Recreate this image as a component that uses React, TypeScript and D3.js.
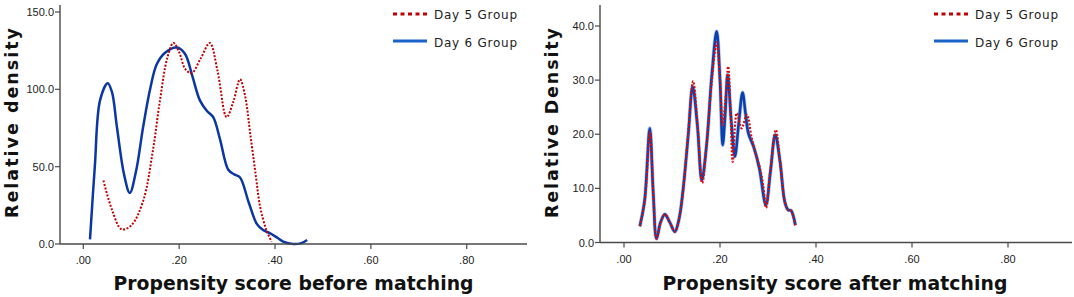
import React from "react";
import * as d3 from "d3";

// ---------- DATA ----------
const xTicks = [0, 0.2, 0.4, 0.6, 0.8];
const xTickLabels = [".00", ".20", ".40", ".60", ".80"];
const yTicksBefore = [0, 50, 100, 150];
const yTicksAfter = [0, 10, 20, 30, 40];
const seriesNames = ["Day 5 Group", "Day 6 Group"];

// Before matching: [propensity score, relative density]
const beforeDay5: [number, number][] = [
  [0.042, 41], [0.06, 22], [0.08, 9.5], [0.1, 12], [0.125, 28], [0.145, 60],
  [0.16, 93], [0.175, 120], [0.188, 130], [0.2, 124], [0.213, 113], [0.226, 110.5],
  [0.245, 120], [0.264, 130], [0.28, 112], [0.299, 82], [0.313, 92], [0.327, 106.5],
  [0.338, 95], [0.348, 72], [0.36, 44], [0.369, 24], [0.382, 9], [0.393, 1.5],
];
const beforeDay6: [number, number][] = [
  [0.014, 3], [0.024, 50], [0.035, 93], [0.051, 104], [0.06, 98], [0.07, 76],
  [0.085, 45], [0.097, 33], [0.11, 47], [0.125, 76], [0.14, 101], [0.153, 116],
  [0.17, 123.5], [0.195, 127], [0.212, 123], [0.228, 108], [0.243, 93],
  [0.258, 86], [0.271, 82], [0.285, 68], [0.3025, 48], [0.315, 45], [0.327, 43],
  [0.345, 27], [0.362, 13], [0.375, 9], [0.39, 6.9], [0.405, 4], [0.417, 1.5],
  [0.438, 0], [0.455, 0.6], [0.467, 2.6],
];

// After matching
const afterDay5: [number, number][] = [
  [0.033, 3], [0.043, 7.5], [0.054, 20.5], [0.061, 9], [0.068, 0.7], [0.076, 3.5],
  [0.085, 5.2], [0.095, 3.8], [0.106, 2.0], [0.115, 4.5], [0.123, 9.5], [0.134, 20.5],
  [0.144, 29.8], [0.153, 22], [0.163, 11.0], [0.172, 18], [0.183, 30], [0.193, 37],
  [0.2, 30], [0.2055, 21.7], [0.211, 26], [0.217, 32.5], [0.222, 24], [0.2265, 14.9],
  [0.235, 23.9], [0.245, 21.1], [0.256, 23.6], [0.266, 19.3], [0.275, 16.2],
  [0.283, 13.8], [0.29, 10.5], [0.296, 6.4], [0.305, 13.5], [0.3163, 20.8],
  [0.325, 15], [0.335, 7.5], [0.342, 6.0], [0.348, 5.8], [0.357, 3.2],
];
const afterDay6: [number, number][] = [
  [0.033, 3], [0.043, 7.8], [0.0537, 21.1], [0.061, 9], [0.0677, 0.7], [0.076, 3.7],
  [0.085, 5.2], [0.095, 3.8], [0.106, 2.0], [0.115, 4.5], [0.123, 9.7], [0.134, 20],
  [0.143, 28.8], [0.153, 21.5], [0.162, 11.5], [0.172, 18], [0.183, 31], [0.193, 39],
  [0.2, 30], [0.2056, 18.0], [0.211, 24], [0.216, 31], [0.223, 23], [0.231, 15.9],
  [0.239, 22], [0.247, 27.7], [0.253, 24], [0.259, 20.2], [0.27, 17.7], [0.282, 13.7],
  [0.2955, 6.9], [0.305, 13], [0.315, 19.9], [0.325, 15], [0.335, 7.5], [0.342, 6.0],
  [0.348, 5.9], [0.357, 3.2],
];

// ---------- CHART ----------
type PanelProps = {
  left: number;
  axisRight: number;
  x0: number;
  pxPerUnit: number;
  yBottom: number;
  yTopVal: number;
  yTopPx: number;
  yMaxVal: number;
  yTicks: number[];
  yTitle: string;
  xTitle: string;
  xTitleLen: number;
  d5: [number, number][];
  d6: [number, number][];
  legendX: number;
  thick: boolean;
};

const FONT = "'Liberation Sans', Arial, sans-serif";
const TITLE_FONT = "'DejaVu Sans', 'Liberation Sans', sans-serif";

function Panel(p: PanelProps) {
  const xDomainMin = (p.left - p.x0) / p.pxPerUnit;
  const xDomainMax = (p.axisRight - p.x0) / p.pxPerUnit;
  const x = d3.scaleLinear().domain([xDomainMin, xDomainMax]).range([p.left, p.axisRight]);
  const y = d3.scaleLinear().domain([0, p.yTopVal]).range([p.yBottom, p.yTopPx]);
  const yAxisTop = y(p.yMaxVal);
  const line = d3
    .line<[number, number]>()
    .x((d) => x(d[0]))
    .y((d) => y(d[1]))
    .curve(d3.curveCatmullRom.alpha(0.5));
  const axisColor = "#4a4a4a";
  const red = "#c00000";
  const blue = p.thick ? "#0b3fae" : "#0a37a3";
  return (
    <g>
      {p.thick && (
        <path d={line(p.d6) || ""} fill="none" stroke="#b5caf0" strokeWidth={4} strokeLinejoin="round" />
      )}
      <path d={line(p.d6) || ""} fill="none" stroke={blue} strokeWidth={p.thick ? 2.6 : 2.5} strokeLinejoin="round" />
      <path
        d={line(p.d5) || ""}
        fill="none"
        stroke={p.thick ? "#d40f0f" : red}
        strokeWidth={p.thick ? 2.2 : 2}
        strokeDasharray="2,1.6"
      />
      <line x1={p.left} x2={p.left} y1={yAxisTop} y2={p.yBottom} stroke={axisColor} strokeWidth={1.4} />
      <line x1={p.left} x2={p.axisRight} y1={p.yBottom} y2={p.yBottom} stroke={axisColor} strokeWidth={1.4} />
      {p.yTicks.map((t) => (
        <g key={"y" + t}>
          <line x1={p.left - 5} x2={p.left} y1={y(t)} y2={y(t)} stroke={axisColor} strokeWidth={1.2} />
          <text x={p.left - 6} y={y(t) + 4} textAnchor="end" fontFamily={FONT} fontSize={11} fill="#222">
            {t.toFixed(1)}
          </text>
        </g>
      ))}
      {xTicks.map((t, i) => (
        <g key={"x" + t}>
          <line x1={x(t)} x2={x(t)} y1={p.yBottom} y2={p.yBottom + 5} stroke={axisColor} strokeWidth={1.2} />
          <text x={x(t)} y={p.yBottom + 20} textAnchor="middle" fontFamily={FONT} fontSize={11} fill="#222">
            {xTickLabels[i]}
          </text>
        </g>
      ))}
      <text
        transform={`translate(${p.left - 42},123) rotate(-90)`}
        textAnchor="middle"
        fontFamily={TITLE_FONT}
        fontWeight="bold"
        fontSize={17.5}
        textLength={190}
        lengthAdjust="spacing"
        fill="#111"
      >
        {p.yTitle}
      </text>
      <text
        x={(p.left + p.axisRight) / 2 + (p.thick ? -1 : 0)}
        y={290}
        textAnchor="middle"
        fontFamily={TITLE_FONT}
        fontWeight="bold"
        fontSize={18.8}
        textLength={p.xTitleLen}
        lengthAdjust="spacing"
        fill="#111"
      >
        {p.xTitle}
      </text>
      <line x1={p.legendX} x2={p.legendX + 34} y1={14} y2={14} stroke="#c00000" strokeWidth={3.2} strokeDasharray="4,3.5" />
      <text x={p.legendX + 41} y={19} fontFamily={TITLE_FONT} fontSize={12} textLength={83} lengthAdjust="spacing" fill="#222">
        {seriesNames[0]}
      </text>
      <line x1={p.legendX} x2={p.legendX + 34} y1={41} y2={41} stroke="#1a62c8" strokeWidth={3} />
      <text x={p.legendX + 41} y={46.5} fontFamily={TITLE_FONT} fontSize={12} textLength={83} lengthAdjust="spacing" fill="#222">
        {seriesNames[1]}
      </text>
    </g>
  );
}

export default function App() {
  return (
    <svg
      width={1074}
      height={297}
      style={{ position: "absolute", left: 0, top: 0, background: "#fff" }}
    >
      <rect width={1074} height={297} fill="#fff" />
      <Panel
        left={60}
        axisRight={527}
        x0={83.3}
        pxPerUnit={479.3}
        yBottom={244}
        yTopVal={150}
        yTopPx={12}
        yMaxVal={154.5}
        yTicks={yTicksBefore}
        yTitle="Relative density"
        xTitle="Propensity score before matching"
        xTitleLen={360}
        d5={beforeDay5}
        d6={beforeDay6}
        legendX={393}
        thick={false}
      />
      <Panel
        left={600}
        axisRight={1072}
        x0={624}
        pxPerUnit={480}
        yBottom={242.5}
        yTopVal={40}
        yTopPx={26}
        yMaxVal={43.9}
        yTicks={yTicksAfter}
        yTitle="Relative Density"
        xTitle="Propensity score after matching"
        xTitleLen={345}
        d5={afterDay5}
        d6={afterDay6}
        legendX={934}
        thick={true}
      />
    </svg>
  );
}
